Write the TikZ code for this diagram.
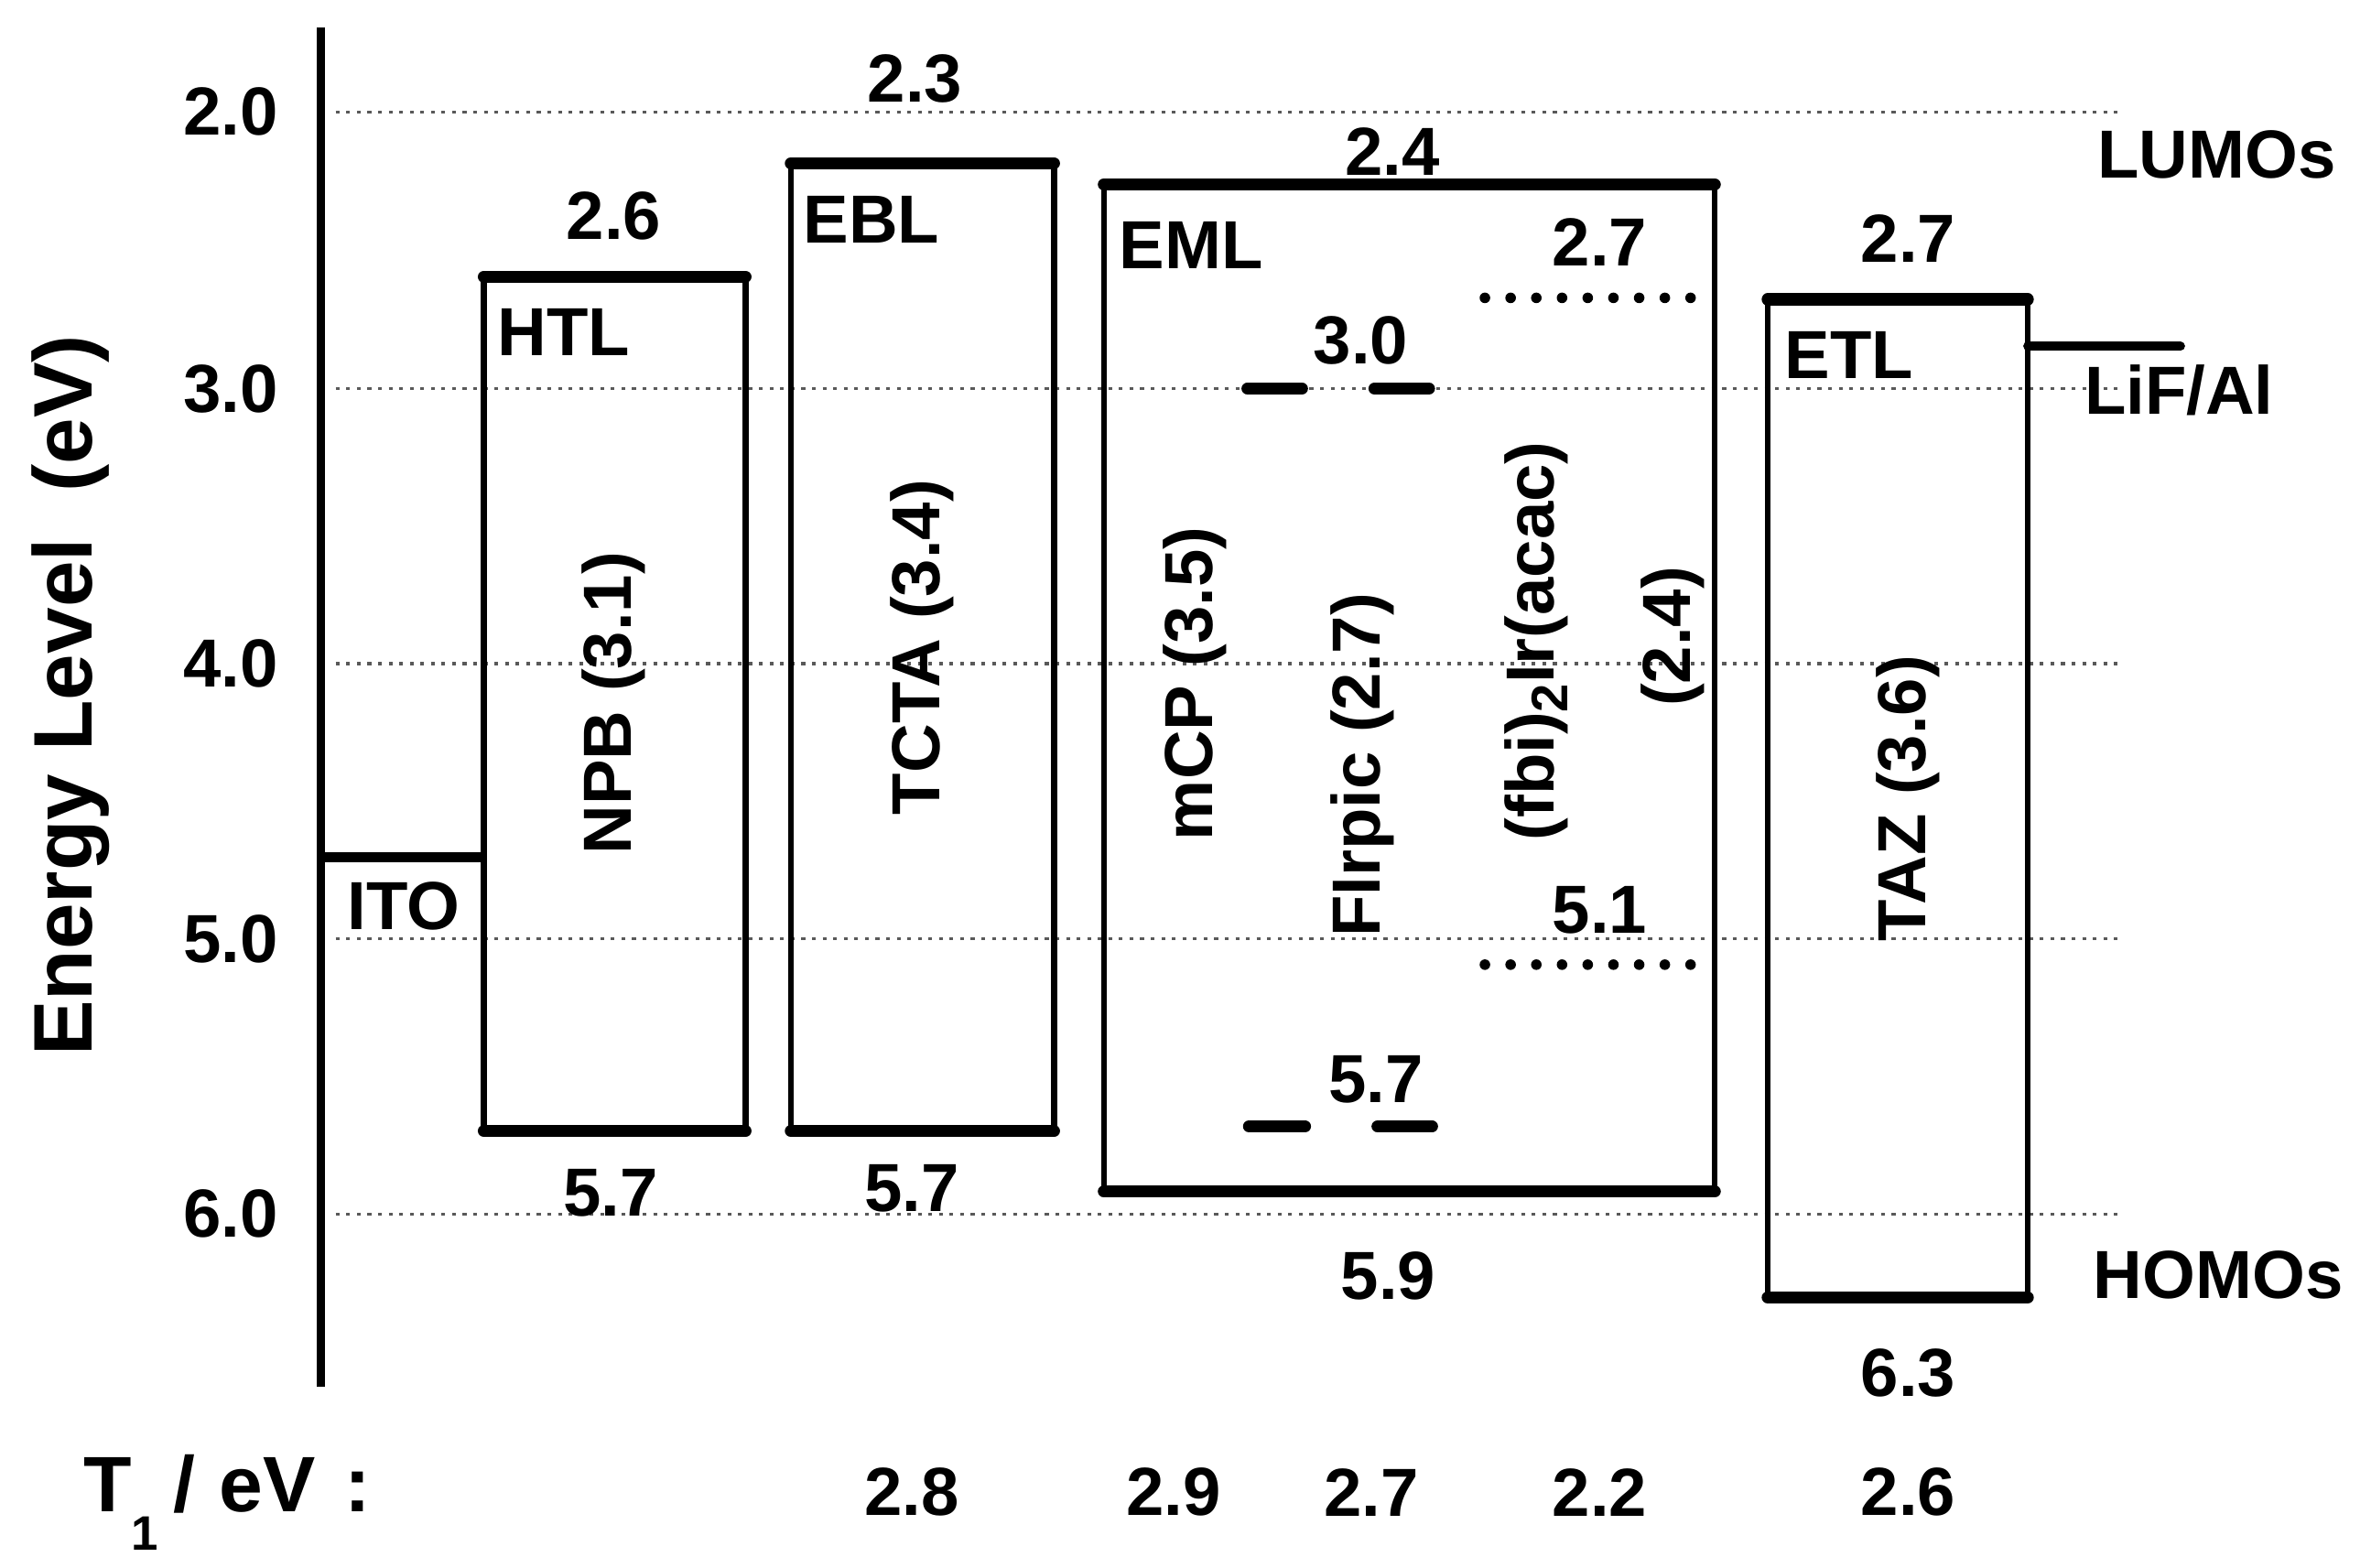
\documentclass[tikz,border=0pt]{standalone}
\usepackage{fontspec}
\setmainfont{Liberation Sans}
\begin{document}
\begin{tikzpicture}[x=1pt,y=-1pt,
  lbl/.style={font=\fontsize{45}{54}\selectfont\bfseries, inner sep=0pt},
  biglbl/.style={font=\fontsize{52}{62}\selectfont\bfseries, inner sep=0pt},
  axlbl/.style={font=\fontsize{55}{66}\selectfont\bfseries, inner sep=0pt},
  gridln/.style={line width=2pt, black!65, dash pattern=on 2.5pt off 4.5pt},
  side/.style={line width=4pt},
  lvl/.style={line width=8pt, line cap=round},
  hdash/.style={line width=8pt, line cap=round},
  dotlvl/.style={line width=7pt, line cap=round, dash pattern=on 0pt off 17pt}]
\useasboundingbox (0,0) rectangle (1568,1037);
% grid lines
\foreach \yy in {74,257,439,621,803}
  \draw[gridln] (222,\yy) -- (1405,\yy);
% axis
\draw[line width=5.5pt] (212,18) -- (212,917);
\node[lbl, anchor=east] (t2) at (184,74) {2.0};
\node[lbl, anchor=east] (t3) at (184,257) {3.0};
\node[lbl, anchor=east] (t4) at (184,439) {4.0};
\node[lbl, anchor=east] (t5) at (184,621) {5.0};
\node[lbl, anchor=east] (t6) at (184,803) {6.0};
\node[axlbl, rotate=90] (ylab) at (47,460) {Energy Level\ \ (eV)};
% ITO
\draw[line width=7pt] (212,567) -- (320,567);
\node[lbl] (ito) at (267,599) {ITO};
% HTL
\draw[side] (320,182) -- (320,748);
\draw[side] (493,182) -- (493,748);
\draw[lvl] (320,183) -- (493,183);
\draw[lvl] (320,748) -- (493,748);
\node[lbl] (htlL) at (406,143) {2.6};
\node[lbl, anchor=west] (htl) at (329,220) {HTL};
\node[lbl, rotate=90] (npb) at (406,465) {NPB (3.1)};
\node[lbl] (htlH) at (404,789) {5.7};
% EBL
\draw[side] (523,108) -- (523,748);
\draw[side] (697,108) -- (697,748);
\draw[lvl] (523,108) -- (697,108);
\draw[lvl] (523,748) -- (697,748);
\node[lbl] (eblL) at (605,52) {2.3};
\node[lbl, anchor=west] (ebl) at (531,145) {EBL};
\node[lbl, rotate=90] (tcta) at (610,428) {TCTA (3.4)};
\node[lbl] (eblH) at (603,786) {5.7};
% EML
\draw[side] (730,122) -- (730,788);
\draw[side] (1134,122) -- (1134,788);
\draw[lvl] (730,122) -- (1134,122);
\draw[lvl] (730,788) -- (1134,788);
\node[lbl] (emlL) at (921,100) {2.4};
\node[lbl, anchor=west] (eml) at (740,162) {EML};
\node[lbl, rotate=90] (mcp) at (790,452) {mCP (3.5)};
\node[lbl] (emlH) at (918,844) {5.9};
% FIrpic
\draw[hdash] (825,257) -- (861,257);
\draw[hdash] (909,257) -- (945,257);
\draw[hdash] (826,745) -- (863,745);
\draw[hdash] (911,745) -- (947,745);
\node[lbl] (firL) at (900,225) {3.0};
\node[lbl] (firH) at (910,714) {5.7};
\node[lbl, rotate=90] (firpic) at (901,506) {FIrpic (2.7)};
% (fbi)2Ir(acac)
\draw[dotlvl] (982,197) -- (1118,197);
\draw[dotlvl] (982,638) -- (1118,638);
\node[lbl] (fbiL) at (1058,160) {2.7};
\node[lbl] (fbiH) at (1058,602) {5.1};
\node[lbl, rotate=90] (fbi) at (1016,424) {(fbi)\raisebox{-9pt}{\fontsize{34}{40}\selectfont 2}Ir(acac)};
\node[lbl, rotate=90] (fbiT) at (1106,421) {(2.4)};
% ETL
\draw[side] (1169,198) -- (1169,858);
\draw[side] (1341,198) -- (1341,858);
\draw[lvl] (1169,198) -- (1341,198);
\draw[lvl] (1169,858) -- (1341,858);
\node[lbl] (etlL) at (1262,158) {2.7};
\node[lbl, anchor=west] (etl) at (1180,235) {ETL};
\node[lbl, rotate=90] (taz) at (1262,528) {TAZ (3.6)};
\node[lbl] (etlH) at (1262,908) {6.3};
% LiF/Al
\draw[line width=6pt, line cap=round] (1341,229) -- (1442,229);
\node[lbl, anchor=base] (lif) at (1441,274) {LiF/Al};
\node[lbl] (lumo) at (1466,102) {LUMOs};
\node[lbl] (homo) at (1467,843) {HOMOs};
% T1 row
\node[biglbl, anchor=base west] (t1) at (55,1000) {T\raisebox{-25pt}{\fontsize{32}{38}\selectfont 1}\hspace{10pt}/\hspace{16pt}eV\hspace{19pt}:};
\node[lbl] (v1) at (603,987) {2.8};
\node[lbl] (v2) at (776,987) {2.9};
\node[lbl] (v3) at (907,987) {2.7};
\node[lbl] (v4) at (1058,987) {2.2};
\node[lbl] (v5) at (1262,987) {2.6};
\end{tikzpicture}
\end{document}
